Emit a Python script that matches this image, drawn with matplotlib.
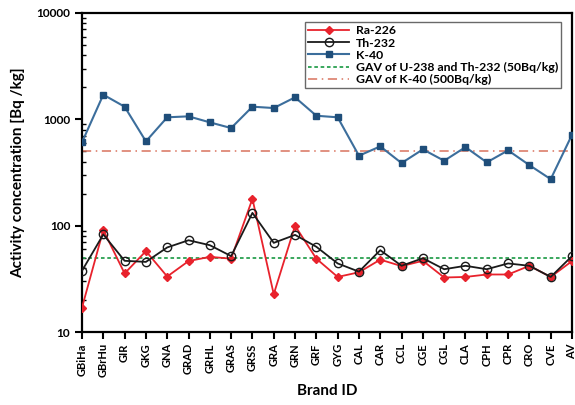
import matplotlib.pyplot as plt
from matplotlib.ticker import LogLocator, NullFormatter

plt.rcParams['font.family'] = ['Lato', 'DejaVu Sans']
plt.rcParams['font.weight'] = 'bold'

# Brand IDs and activity concentrations (Bq/kg)
brands = ['GBiHa', 'GBrHu', 'GIR', 'GKG', 'GNA', 'GRAD', 'GRHL', 'GRAS', 'GRSS', 'GRA',
          'GRN', 'GRF', 'GYG', 'CAL', 'CAR', 'CCL', 'CGE', 'CGL', 'CLA', 'CPH', 'CPR',
          'CRO', 'CVE', 'AV']
ra226 = [17, 91, 35.6, 57.7, 33.3, 46.5, 51, 49, 179, 22.7,
         100, 49, 33, 36.5, 48, 41.7, 46.8, 32.6, 33, 34.8, 34.8,
         42, 33, 46.5]
th232 = [37.7, 82.8, 46.8, 45.7, 62.5, 73, 65.6, 51.8, 132, 69,
         82, 63.4, 44.2, 37, 58.9, 42, 49.5, 39, 42, 39, 44.2,
         42, 33, 51.8]
k40 = [608, 1705, 1315, 621, 1045, 1067, 937, 828, 1315, 1277,
       1610, 1081, 1045, 455, 557, 388, 522, 408, 548, 394, 511,
       371, 274, 716]
gav_u_th = 50
gav_k = 500

x = list(range(len(brands)))

fig = plt.figure(figsize=(5.75, 4.05), dpi=100)
ax = fig.add_axes([0.1426, 0.180, 0.8522, 0.788])

ax.plot(x, ra226, color='#e8222c', marker='D', markersize=4.5, linewidth=1.3,
        label='Ra-226', zorder=3)
ax.plot(x, th232, color='#1a1a1a', marker='o', markersize=6, markerfacecolor='none',
        markeredgewidth=1.0, linewidth=1.3, label='Th-232', zorder=4)
ax.plot(x, k40, color='#3c6e9c', marker='s', markersize=5, markerfacecolor='#1f4e7a',
        markeredgecolor='#1f4e7a', linewidth=1.5, label='K-40', zorder=3)
ax.axhline(gav_u_th, color='#2aa050', linestyle=(0, (2, 1.5)), linewidth=1.3,
           label='GAV of U-238 and Th-232 (50Bq/kg)', zorder=2)
ax.axhline(gav_k, color='#d9735e', linestyle=(0, (6, 3, 1, 3)), linewidth=1.1,
           label='GAV of K-40 (500Bq/kg)', zorder=2)

ax.set_yscale('log')
ax.set_ylim(10, 10000)
ax.set_xlim(0, len(brands) - 1)

ax.set_yticks([10, 100, 1000, 10000])
ax.set_yticklabels(['10', '100', '1000', '10000'])
ax.yaxis.set_minor_locator(LogLocator(base=10, subs=range(2, 10), numticks=20))
ax.yaxis.set_minor_formatter(NullFormatter())

ax.set_xticks(x)
ax.set_xticklabels(brands, rotation=90, fontsize=8, fontweight='bold')
ax.tick_params(axis='y', which='major', direction='out', length=5, width=1.5,
               labelsize=8.5)
ax.tick_params(axis='y', which='minor', direction='in', length=3, width=1)
ax.tick_params(axis='x', direction='out', length=5, width=1.5, pad=3)

for s in ax.spines.values():
    s.set_linewidth(1.6)

ax.set_ylabel('Activity concentration [Bq /kg]', fontsize=11, fontweight='bold', labelpad=8)
ax.set_xlabel('Brand ID', fontsize=11, fontweight='bold', labelpad=5)

leg = ax.legend(loc='upper right', bbox_to_anchor=(0.99, 0.99), fontsize=8.8,
                frameon=True, fancybox=False, edgecolor='#444444', handlelength=3.4,
                borderpad=0.25, labelspacing=0.1, handletextpad=0.5)
leg.get_frame().set_linewidth(1.0)

fig.savefig('out.png', dpi=100)
